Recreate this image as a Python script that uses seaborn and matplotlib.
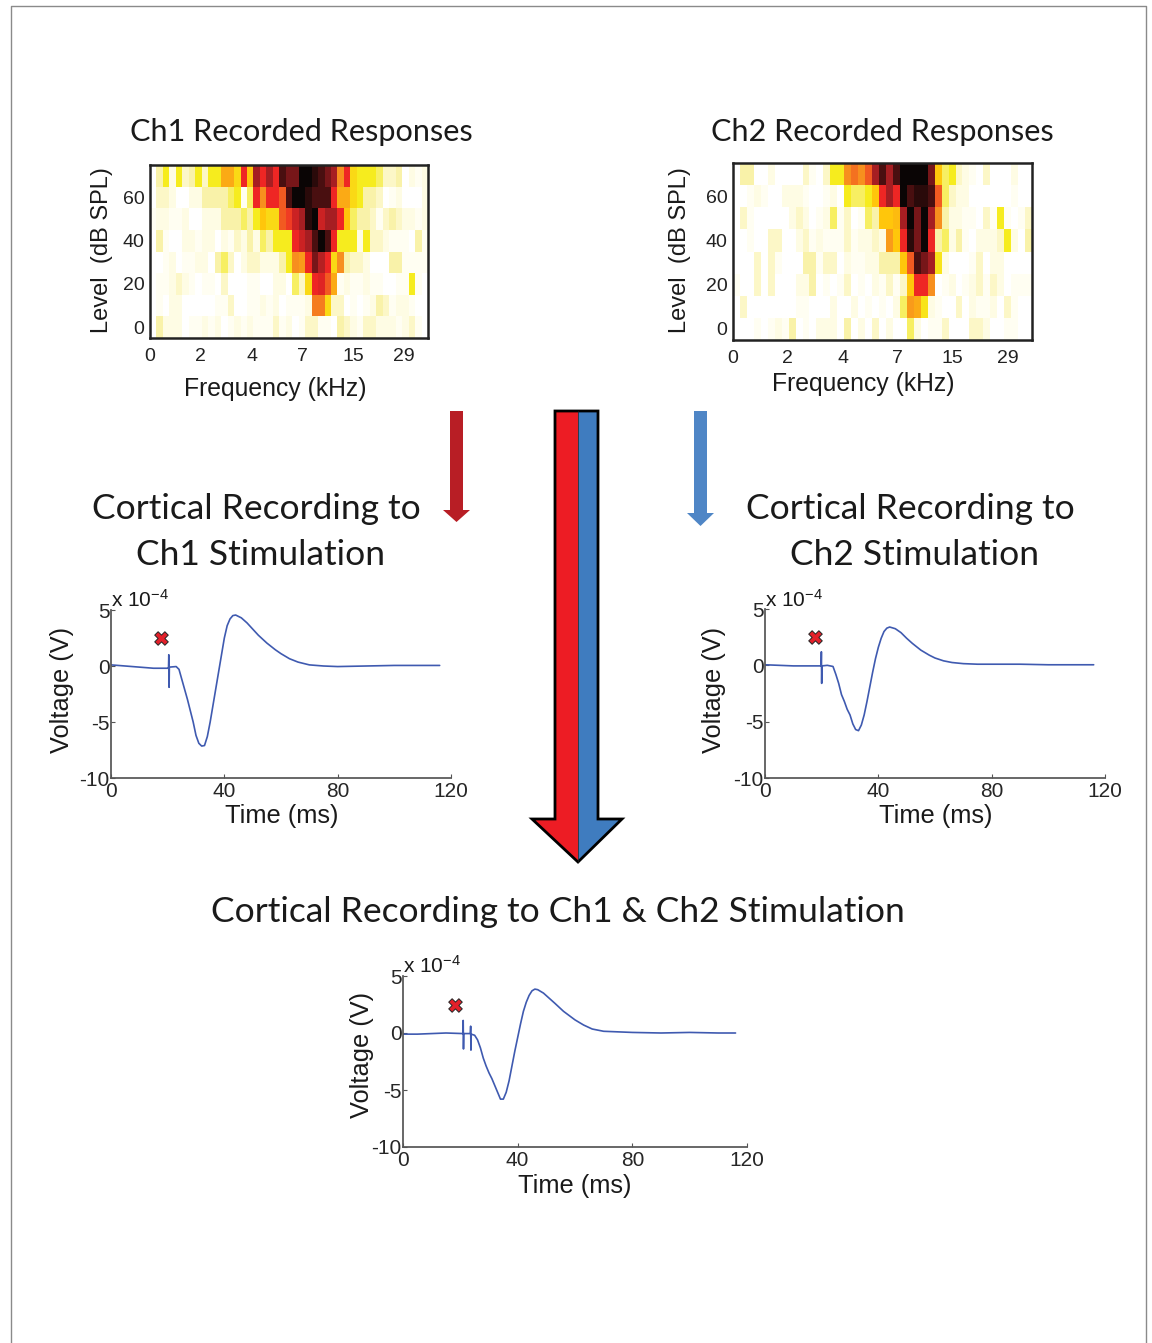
import numpy as np
import pandas as pd
import matplotlib
matplotlib.use("Agg")
import matplotlib.pyplot as plt
from matplotlib.colors import LinearSegmentedColormap
from matplotlib.patches import Polygon
import seaborn as sns

W, H = 1152, 1343

levels = [70, 60, 50, 40, 30, 20, 10, 0]
freq_labels = ["0", "2", "4", "7", "15", "29"]
level_labels = ["60", "40", "20", "0"]

# response strength per cell, top row = highest level
ch1_70 = [0,2,3,1,3,1.5,2,3,1.5,3,3,4.5,4.5,3.5,6,4,7,6,7,6,8,7.5,7.5,9,9,8.5,8,7.5,7,5,6,3.5,3,3,3,2.5,1.5,1.5,2,0,1,0.5,1]
ch1_60 = [0,1.5,1.5,1,0,0,1,1,2,2,2,2,2.5,3,0.5,2.5,6,5,6,6,5.5,8,9,9,8.5,8,8,8,6,4.5,4.5,3.5,3,2,2,1.5,0,0.5,1,0,0,0,1]
ch1_50 = [0.5,1,1,0.5,0.5,1,0,0,1,1,1,2,2,2,2.5,2,3,4,3.5,3.5,5.5,5.8,6.5,7,8.5,9,6.5,7,7,6,4,2.5,2,2,1.5,0.5,1.5,2,1.5,1,1,0.5,1]
ch1_40 = [0,2,0.5,0,0,1,1,0.5,1,1,0,1,0.5,1.5,1,2,1,2.5,2,3,3,3,6,6.5,7,8,9,8,6,3,3,3,1,3,1.5,1.5,1,0.5,0.5,0.5,0,2,0.5]
ch1_30 = [0,0,0.5,1,0,0.5,0.5,1,1,0,2,2.5,1.5,0,1,1.5,1.5,1,1,1,2,3,5,4.8,6,7.5,6.8,6,3.5,5,2,1.5,1.5,1,0,0,0,2,2,0.5,0.5,0.5,0.5]
ch1_20 = [0,0.5,0.5,1,1.5,1,0.5,0,0.5,0.5,0,1.5,0,0,0,0.5,0.5,0,0,1,1,0,2.5,1.5,3.5,6,6.2,5.5,4.5,0.5,1,0.5,0.5,1,0.5,0.5,0,0,0.5,0.5,3,0.5,0]
ch1_10 = [0,0.5,0,1,1,0,0,0,0,0,0.5,0.5,1.5,0,0,0.5,0.5,1,0.5,1,0,0.5,0.5,0.5,1,5.2,5.2,3.5,1.5,1.5,0,0.5,0,0.5,1,2,1.5,0.5,1,1,0.5,0,0]
ch1_00 = [0,2,1,1,1,0,0.5,0.5,1,0.5,1,0,0.5,1,0.5,1,0.5,0.5,0.5,1.5,0.5,1,0,0.5,1.5,1.5,0.5,0.5,0,2,1.5,1,0.5,1.5,1.5,1,1,1,0.5,1,1.5,0.5,0]

ch2_70 = [0,2,2,0,0,1,0,0,0,0,1.5,0.5,0,1.5,3,3,5,5.3,5,5.5,7,8,7,8,9,9,9,9,7.5,4,2.5,3,1.5,1,0.5,0,1.5,0,0,0,1,0,0]
ch2_60 = [0,0,0.5,1,0.5,0,0,1,1,1,0.5,0,0,0.5,1,0,3,2.5,2.5,3,4,6,7,6,9,8,8.5,8.5,8,5.5,2.5,1.5,1,1,0,0,0,0,0,0,0.5,0,0]
ch2_50 = [0,1.5,0.5,0,0,0,0,0,1,1.5,1,0,0.5,1,2.5,0.5,1.5,0,0.5,2.5,2,4,4,4.2,7,9,7.5,9,7,5,2,1,1,0.5,0.5,0,1.5,0.5,3,0.5,0,0.5,1.5]
ch2_40 = [0,0,0.5,0,0,1.5,1.5,0,0,1,1.5,0.5,1,0.5,0.5,0.5,1.5,0.5,1,1,1.5,1,4.8,4,6,8.5,7.5,9,6,2,2.5,1,2,0.5,0,1,1,1,1.5,3,1,0,2]
ch2_30 = [0,0,0,1.5,0,1.5,0.5,0,0,0,2,2,0.5,1.5,1.5,0,1,0.5,0.5,1,1,2,2,2,4,5.5,8,7.5,7,3.2,1,0,0,0,0.5,1.5,0,1,1,0,0,0,0]
ch2_20 = [0.5,0,0,1.5,0,1.5,0,0,0,1,1,2,0,0.5,0,0.5,1.5,0,0.5,0,1,0.5,1.5,0.5,1.5,4,6,6,5,0,0.5,1,0,0.5,1,1.5,0.5,1.5,1,0,0.5,0.5,0.5]
ch2_10 = [0,1.5,0,0,0,0,0,0,0,0.5,0.5,0,0,0,1,0,0,1,0,0.5,0,0.5,0,1,2.5,4.8,4.5,3.2,1,0.5,0,0,1.5,0,1,0.5,0.5,1,0,1.5,0.5,0,0]
ch2_00 = [0,0,0,0.5,0,0.5,1,0.5,2,0,0.5,0,1,1,1,0,2,0,1,0,1.5,0,1,0,0,2.5,1,0,0.5,0.5,1.5,0,0,0,1.5,1.5,1,0,0,0.5,0.5,0,0]

time_a = [0,5,10,15,20,20.3,20.4,20.5,20.6,23,24,25,27,28,29,30,31,32,33,34,35,36,37,38,39,40,41,42,43,44,46,48,50,52,55,58,60,63,66,70,75,80,90,100,110,116]
volt_a = [0.1,0,-0.1,-0.2,-0.2,-0.2,1.0,-1.9,-0.1,-0.05,-0.3,-1.2,-3,-4,-5,-6.2,-6.9,-7.15,-7.1,-6.3,-5,-3.5,-2,-0.5,1,2.5,3.6,4.2,4.5,4.55,4.3,3.85,3.3,2.75,2.05,1.45,1.1,0.65,0.35,0.1,0,-0.05,0,0.05,0.05,0.05]

time_b = [0,5,10,15,19.8,19.9,20,20.1,22,24,25,26,27,28,29,30,31,32,33,34,35,36,37,38,39,40,41,42,43,44,46,48,50,52,55,58,60,63,66,70,75,80,90,100,110,116]
volt_b = [0.05,0,-0.05,-0.05,-0.05,1.2,-1.6,-0.05,0,-0.1,-0.8,-1.6,-2.6,-3.2,-3.9,-4.4,-5.2,-5.7,-5.8,-5.3,-4.4,-3.2,-1.9,-0.6,0.6,1.6,2.4,3,3.3,3.4,3.25,2.9,2.4,1.95,1.35,0.9,0.65,0.4,0.25,0.15,0.1,0.1,0.1,0.05,0.05,0.05]

time_c = [0,5,10,15,20.9,21,21.1,21.2,23.5,23.6,23.7,23.8,25,26,27,28,29,30,31,32,33,34,35,36,37,38,39,40,41,42,43,44,45,46,47,49,51,53,56,60,63,66,70,75,80,90,100,110,116]
volt_c = [-0.1,-0.1,-0.05,0,-0.05,1.1,-1.4,-0.05,-0.05,0.6,-1.5,-0.1,-0.2,-0.6,-1.3,-2.2,-2.9,-3.5,-4,-4.6,-5.2,-5.8,-5.8,-5.2,-4.2,-2.9,-1.6,-0.4,0.8,1.9,2.7,3.3,3.7,3.85,3.8,3.5,3.05,2.6,1.9,1.15,0.7,0.35,0.15,0.1,0.05,0,0.05,0,0]

hot_colors = ["#ffffff", "#fefce4", "#f9f2a8", "#f6ec1e", "#ffc60b", "#f7901e",
              "#ee2624", "#a81e22", "#4a0f10", "#0a0505"]
curve_color = "#3f5ab0"
spine_color = "#555555"
tick_font = "Liberation Sans"
title_font = "Lato"

sns.set_theme(style="white")
plt.rcParams["font.family"] = tick_font
plt.rcParams["text.color"] = "#1a1a1a"
plt.rcParams["axes.labelcolor"] = "#1a1a1a"
plt.rcParams["axes.unicode_minus"] = False
plt.rcParams["mathtext.default"] = "regular"

hot = LinearSegmentedColormap.from_list("resp", hot_colors)


def px_axes(fig, left, top, right, bottom):
    return fig.add_axes([left / W, 1 - bottom / H, (right - left) / W, (bottom - top) / H])


def place_labels(fig, ax, xlab, ylab):
    # label centres given in picture pixels
    ax.xaxis.set_label_coords(xlab[0] / W, 1 - xlab[1] / H, transform=fig.transFigure)
    ax.yaxis.set_label_coords(ylab[0] / W, 1 - ylab[1] / H, transform=fig.transFigure)


def draw_heatmap(fig, rows, box, tick_step, xlab, ylab):
    df = pd.DataFrame(rows, index=levels)
    ax = px_axes(fig, *box)
    sns.heatmap(df, ax=ax, cmap=hot, vmin=0, vmax=9, cbar=False, xticklabels=False, yticklabels=False)
    ax.set_xticks(np.arange(len(freq_labels)) * tick_step)
    ax.set_xticklabels(freq_labels, rotation=0, fontsize=14)
    ax.set_yticks([1.5, 3.5, 5.5, 7.5])
    ax.set_yticklabels(level_labels, rotation=0, fontsize=14)
    ax.tick_params(length=0, colors="#222222")
    ax.tick_params(axis="x", pad=7)
    ax.tick_params(axis="y", pad=4)
    for s in ax.spines.values():
        s.set_visible(True)
        s.set_color("#222222")
        s.set_linewidth(1.8)
    ax.set_xlabel("Frequency (kHz)", fontsize=17.8, va="center")
    ax.set_ylabel("Level  (dB SPL)", fontsize=17, va="center")
    place_labels(fig, ax, xlab, ylab)
    return ax


def draw_curve(fig, t, v, box, mark, xlab, ylab, exp_pos):
    ax = px_axes(fig, *box)
    sns.lineplot(x=t, y=v, ax=ax, sort=False, estimator=None, color=curve_color, lw=1.2)
    sns.scatterplot(x=[mark[0]], y=[mark[1]], ax=ax, marker="X", s=95, color="#e3202a",
                    edgecolor="#222222", linewidth=0.7, zorder=5)
    ax.set_xlim(0, 120)
    ax.set_ylim(-10, 5)
    ax.set_xticks([0, 40, 80, 120])
    ax.set_yticks([-10, -5, 0, 5])
    ax.tick_params(direction="in", length=3, width=0.8, color=spine_color, labelsize=15,
                   left=True, bottom=True)
    ax.tick_params(axis="x", pad=3)
    ax.tick_params(axis="y", pad=1)
    sns.despine(ax=ax)
    ax.spines["left"].set_color(spine_color)
    ax.spines["bottom"].set_color(spine_color)
    ax.set_xlabel("Time (ms)", fontsize=18.3, va="center")
    ax.set_ylabel("Voltage (V)", fontsize=18.3, va="center")
    place_labels(fig, ax, xlab, ylab)
    fig.text(exp_pos[0] / W, 1 - exp_pos[1] / H, r"x 10$^{-4}$", fontsize=15, va="center")
    return ax


fig = plt.figure(figsize=(W / 100, H / 100), dpi=100, facecolor="white")

# pixel overlay for frame, arrows and titles
bg = fig.add_axes([0, 0, 1, 1], zorder=0)
bg.set_xlim(0, W)
bg.set_ylim(H, 0)
bg.axis("off")
bg.plot([11, 11, 1146, 1146], [1343, 6, 6, 1343], color="#8a8a8a", lw=1)

# small arrows
bg.add_patch(Polygon([(450, 411), (463, 411), (463, 510), (470, 510), (456.5, 522), (443, 510), (450, 510)],
                     closed=True, fc="#b81e25", ec="none"))
bg.add_patch(Polygon([(694, 411), (707, 411), (707, 513), (714, 513), (700.5, 526), (687, 513), (694, 513)],
                     closed=True, fc="#4f86c6", ec="none"))
# big arrow, two halves
bg.add_patch(Polygon([(555, 411), (578, 411), (578, 862), (532, 819), (555, 819)],
                     closed=True, fc="#ed1c24", ec="none"))
bg.add_patch(Polygon([(578, 411), (598, 411), (598, 819), (622, 819), (578, 862)],
                     closed=True, fc="#3f7cbf", ec="none"))
bg.add_patch(Polygon([(555, 411), (598, 411), (598, 819), (622, 819), (578, 862), (532, 819), (555, 819)],
                     closed=True, fc="none", ec="black", lw=2))
bg.plot([578, 578], [411, 862], color="#222222", lw=0.5)

titles = [
    (301, 132.5, "Ch1 Recorded Responses", 22.1),
    (882, 132.5, "Ch2 Recorded Responses", 22.1),
    (256, 509, "Cortical Recording to", 25.5),
    (260, 555, "Ch1 Stimulation", 25.5),
    (910, 509, "Cortical Recording to", 25.5),
    (914, 555, "Ch2 Stimulation", 25.5),
    (558, 912, "Cortical Recording to Ch1 & Ch2 Stimulation", 25.5),
]
for x, y, s, fs in titles:
    bg.text(x, y, s, ha="center", va="center", fontsize=fs, family=title_font)

draw_heatmap(fig, [ch1_70, ch1_60, ch1_50, ch1_40, ch1_30, ch1_20, ch1_10, ch1_00],
             (150, 165, 428, 338), 7.85, (275, 389), (102, 250))
draw_heatmap(fig, [ch2_70, ch2_60, ch2_50, ch2_40, ch2_30, ch2_20, ch2_10, ch2_00],
             (733, 163, 1032, 340), 7.9, (863, 384), (680, 250))

draw_curve(fig, time_a, volt_a, (111, 610, 451, 778), (17.7, 2.5), (282, 816), (62, 690), (111, 600))
draw_curve(fig, time_b, volt_b, (765, 609, 1105, 778), (17.7, 2.5), (936, 816), (714, 690), (765, 600))
draw_curve(fig, time_c, volt_c, (403, 976, 747, 1147), (18, 2.5), (575, 1186), (362, 1055), (403, 966))

fig.savefig("out.png", dpi=100, facecolor="white")
